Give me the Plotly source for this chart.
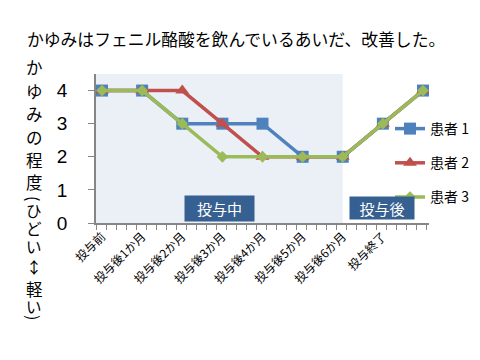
import plotly.graph_objects as go

categories = ["投与前", "投与後1か月", "投与後2か月", "投与後3か月", "投与後4か月",
              "投与後5か月", "投与後6か月", "投与終了", ""]
x_pos = [0, 1, 2, 3, 4, 5, 6, 7, 8]
patient1 = [4, 4, 3, 3, 3, 2, 2, 3, 4]
patient2 = [4, 4, 4, 3, 2, 2, 2, 3, 4]
patient3 = [4, 4, 3, 2, 2, 2, 2, 3, 4]
series_names = ["患者 1", "患者 2", "患者 3"]
y_ticks = [0, 1, 2, 3, 4]
title_text = "かゆみはフェニル酪酸を飲んでいるあいだ、改善した。"
# vertical axis title, one character per entry (brackets are rotated)
y_title_chars = ["か", "ゆ", "み", "の", "程", "度", "(", "ひ", "ど", "い", "↕", "軽", "い", ")"]
y_title_pos = [67, 91, 114, 137, 160, 182, 198, 210, 228, 246, 266, 289, 306, 317]
y_title_rot = [0, 0, 0, 0, 0, 0, 90, 0, 0, 0, 0, 0, 0, 90]
y_title_size = [16.5, 16.5, 16.5, 16.5, 16.5, 16.5, 16, 15.5, 15.5, 15.5, 16, 16.5, 15.5, 16]
phase_labels = ["投与中", "投与後"]

JP = "Noto Sans CJK JP"
colors = ["#4F81BD", "#C0504D", "#9BBB59"]
symbols = ["square", "triangle-up", "diamond"]
sizes = [12, 12, 9]

# page has an 8px body margin: figure coords = page coords - OFF
OFF = 8
W, H = 480 - OFF, 360 - OFF
L, R, T, B = 96 - OFF, 429 - OFF, 74 - OFF, 223 - OFF


def px_x(page_x):
    return (page_x - OFF - L) / (R - L)


def px_y(page_y):
    return (B - (page_y - OFF)) / (B - T)


fig = go.Figure()
for i, (vals, name) in enumerate(zip([patient1, patient2, patient3], series_names)):
    fig.add_trace(go.Scatter(
        x=x_pos, y=vals, name=name, mode="lines+markers",
        line=dict(color=colors[i], width=3.5),
        marker=dict(symbol=symbols[i], size=sizes[i], color=colors[i]),
        legendgroup=f"g{i}",
    ))

# shaded treatment period
fig.add_shape(type="rect", xref="x", yref="y", x0=-0.15, x1=6, y0=0, y1=4.5,
              fillcolor="#EBF0F7", line=dict(width=0), layer="below")

fig.update_layout(
    width=W, height=H,
    margin=dict(l=L, r=W - R, t=T, b=H - B, autoexpand=False),
    paper_bgcolor="white", plot_bgcolor="white",
    showlegend=True,
    legend=dict(xref="container", yref="container",
                x=(390 - OFF) / W, y=1 - (113 - OFF) / H, xanchor="left", yanchor="top",
                font=dict(family=JP, size=14, color="black"),
                bgcolor="rgba(0,0,0,0)", itemwidth=30, tracegroupgap=13),
    xaxis=dict(range=[-0.15, 8.15], tickmode="array", tickvals=x_pos, ticktext=categories,
               tickangle=-45, ticks="", showgrid=False, zeroline=False, automargin=False,
               showline=True, linecolor="#868686", linewidth=1.5,
               tickfont=dict(family=JP, size=12, color="black"),
               minor=dict(ticks="outside", ticklen=5, tickcolor="#868686", tickwidth=1,
                          tickmode="linear", tick0=-0.15, dtick=0.25, showgrid=False)),
    yaxis=dict(range=[0, 4.5], tickmode="array", tickvals=y_ticks, automargin=False,
               ticks="outside", ticklen=6, tickcolor="#868686", tickwidth=1,
               showgrid=False, zeroline=False, showline=True, linecolor="#868686",
               linewidth=1.5, ticklabelstandoff=17,
               tickfont=dict(family="Liberation Sans", size=19, color="black")),
)

annotations = [
    dict(text=title_text, xref="paper", yref="paper",
         x=px_x(25), y=px_y(39), xanchor="left", yanchor="middle",
         showarrow=False, font=dict(family=JP, size=16.8, color="black")),
]
for ch, py, rot, fs in zip(y_title_chars, y_title_pos, y_title_rot, y_title_size):
    annotations.append(dict(text=ch, xref="paper", yref="paper",
                            x=px_x(34), y=px_y(py), textangle=rot,
                            xanchor="center", yanchor="middle", showarrow=False,
                            font=dict(family=JP, size=fs, color="black")))
annotations.append(dict(text=phase_labels[0], xref="x", yref="y", x=2.93, y=0.44,
                        showarrow=False, bgcolor="#376092", width=69, height=25, borderpad=0,
                        font=dict(family=JP, size=15, color="white")))
annotations.append(dict(text=phase_labels[1], xref="x", yref="y", x=6.98, y=0.45,
                        showarrow=False, bgcolor="#376092", width=64, height=22, borderpad=0,
                        font=dict(family=JP, size=15, color="white")))
fig.update_layout(annotations=annotations)

fig.write_html("out.html")
